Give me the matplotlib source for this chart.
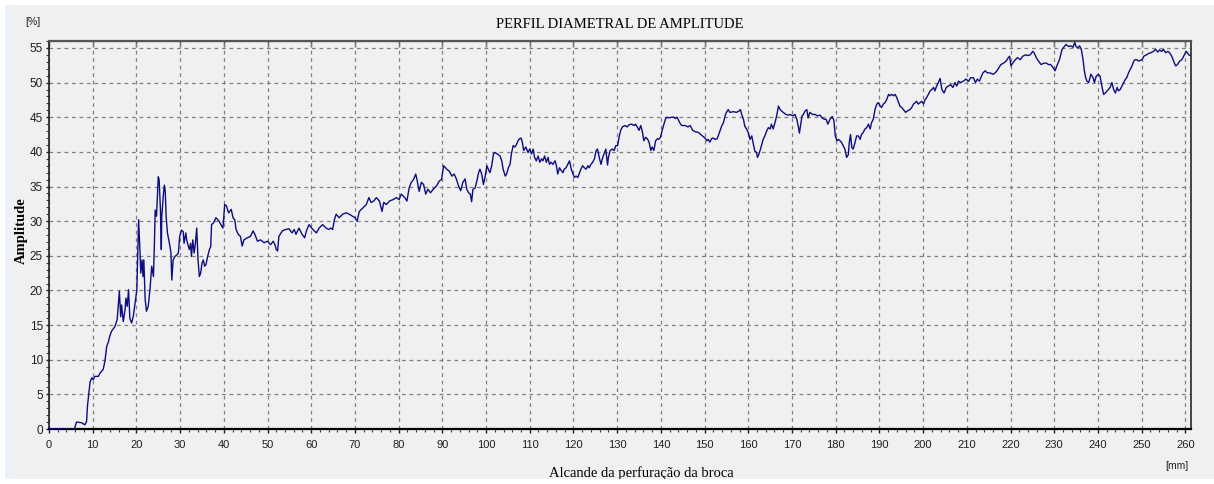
#!/usr/bin/env python
import matplotlib as mpl
import numpy as np

mpl.use("Agg")
from matplotlib import pyplot as plt
from matplotlib.patches import Rectangle
from matplotlib.ticker import MultipleLocator

# depth along the drilling (mm) and diametral amplitude (%)
depth_mm = [
    0, 5.8, 6.3, 7.5, 8.2, 8.6, 8.8, 9.1, 9.4, 9.8, 10.1, 10.5, 11.3, 11.7, 12.0, 12.4, 12.8,
    13.2, 13.6, 13.9, 14.3, 15.1, 15.6, 16.1, 16.4, 16.6, 17.0, 17.4, 17.6, 17.9, 18.2, 18.5,
    18.9, 19.3, 19.7, 20.1, 20.3, 20.5, 20.8, 21.0, 21.3, 21.5, 21.7, 22.0, 22.3, 22.7, 23.1,
    23.5, 23.9, 24.1, 24.3, 24.6, 25.0, 25.2, 25.5, 25.7, 25.8, 26.2, 26.4, 26.6, 26.8, 27.1,
    27.4, 27.7, 27.9, 28.1, 28.4, 28.8, 29.2, 29.6, 29.9, 30.3, 30.7, 30.9, 31.3, 31.5, 31.7,
    32.1, 32.4, 32.6, 32.9, 33.2, 33.5, 33.8, 34.1, 34.4, 34.7, 35.0, 35.3, 35.6, 35.9, 36.3,
    36.7, 37.0,
    # 37 - 92
    37.2, 37.7, 38.2, 38.9, 39.5, 39.8, 40.2, 40.6, 41.1, 41.7, 42.1, 42.5, 42.8, 43.3, 43.8,
    44.2, 44.6, 45.4, 46.1, 46.7, 47.1, 47.7, 48.4, 49.2, 50.0, 50.7, 51.3, 51.7, 52.0, 52.3,
    52.6, 53.4, 54.2, 54.9, 55.6, 56.1, 56.5, 57.2, 57.9, 58.5, 58.9, 59.5, 60.1, 60.7, 61.2,
    61.8, 62.6, 63.4, 64.0, 64.5, 64.9, 65.3, 65.7, 66.4, 67.2, 68.0, 68.7, 69.5, 70.0, 70.5,
    71.0, 71.8, 72.6, 73.2, 73.7, 74.3, 74.9, 75.6, 76.2, 76.6, 77.2, 77.9, 78.7, 79.5, 80.1,
    80.6, 81.4, 81.9, 82.4, 82.9, 83.4, 83.9, 84.2, 84.7, 85.2, 85.7, 86.2, 86.7, 87.3, 87.9,
    88.7, 89.3, 89.8, 90.3, 91.0, 91.6,
    # 92 - 149
    92.2, 92.7, 93.2, 93.7, 94.2, 94.7, 95.2, 95.6, 96.0, 96.4, 96.7, 97.0, 97.5, 97.9, 98.3,
    98.6, 99.0, 99.4, 99.8, 100.2, 100.5, 100.9, 101.3, 101.7, 102.0, 102.6, 103.2, 103.6,
    103.9, 104.4, 104.7, 105.1, 105.5, 105.8, 106.2, 106.6, 107.0, 107.3, 107.7, 108.0, 108.3,
    108.6, 109.1, 109.6, 110.0, 110.4, 110.8, 111.1, 111.5, 111.9, 112.3, 112.7, 113.0, 113.4,
    113.8, 114.2, 114.5, 114.9, 115.3, 115.8, 116.1, 116.4, 116.8, 117.2, 117.6, 117.9, 118.3,
    118.7, 119.1, 119.5, 119.8, 120.2, 120.6, 121.0, 121.4, 121.7, 122.1, 122.5, 122.9, 123.3,
    123.6, 124.0, 124.4, 124.8, 125.2, 125.5, 125.9, 126.3, 126.7, 127.0, 127.4, 127.8, 128.0,
    128.4, 128.9, 129.3, 129.7, 130.1, 130.5, 130.8, 131.2, 131.8, 132.3, 132.7, 133.3, 133.9,
    134.2, 134.6, 135.0, 135.4, 135.8, 136.1, 136.5, 136.9, 137.3, 137.7, 138.0, 138.4, 138.8,
    139.2, 139.5, 139.9, 140.3, 140.7, 141.1, 141.4, 141.8, 142.4, 143.0, 143.3, 143.7, 144.1,
    144.5, 144.8, 145.6, 146.2, 146.7, 147.3, 147.9, 148.6,
    # 149 - 204
    149.5, 150.1, 150.5, 150.8, 151.2, 151.6, 152.0, 152.4, 152.9, 153.4, 153.9, 154.3, 154.7,
    155.0, 155.4, 155.8, 156.6, 157.3, 157.9, 158.2, 158.5, 158.9, 159.2, 159.6, 160.0, 160.4,
    160.8, 161.1, 161.5, 161.9, 162.1, 162.4, 162.8, 163.1, 163.4, 163.8, 164.2, 164.6, 165.0,
    165.3, 165.7, 166.1, 166.5, 166.9, 167.3, 167.6, 168.0, 168.6, 169.2, 169.5, 170.2, 170.7,
    171.1, 171.5, 171.7, 172.0, 172.3, 172.6, 173.0, 173.4, 173.7, 174.1, 174.7, 175.3, 175.8,
    176.4, 176.9, 177.4, 177.8, 178.2, 178.7, 179.2, 179.6, 179.9, 180.3, 180.6, 181.0, 181.4,
    181.8, 182.1, 182.5, 182.9, 183.1, 183.4, 183.7, 184.0, 184.4, 184.8, 185.2, 185.6, 185.9,
    186.3, 186.7, 187.1, 187.5, 187.9, 188.2, 188.6, 189.0, 189.4, 189.8, 190.2, 190.5, 190.9,
    191.3, 191.7, 192.1, 192.4, 192.8, 193.2, 193.6, 194.0, 194.4, 194.7, 195.1, 195.5, 196.0,
    196.4, 197.0, 197.4, 197.8, 198.2, 198.5, 198.9, 199.3, 199.7, 200.1, 200.5, 200.8, 201.2,
    201.6, 202.0, 202.4, 202.7, 203.1, 203.5,
    # 204 - 261
    203.9, 204.3, 204.8, 205.3, 205.8, 206.3, 206.8, 207.3, 207.7, 208.1, 208.6, 209.2, 209.8,
    210.4, 210.9, 211.5, 212.0, 212.4, 212.9, 213.2, 213.7, 214.2, 214.7, 215.3, 216.0, 216.5,
    216.9, 217.3, 217.8, 218.4, 219.0, 219.5, 219.8, 220.1, 220.5, 221.1, 221.6, 222.2, 222.8,
    223.4, 223.9, 224.5, 225.1, 225.4, 225.9, 226.4, 227.0, 227.6, 228.2, 228.7, 229.2, 229.8,
    230.2, 230.6, 231.2, 231.8, 232.3, 232.7, 233.3, 233.8, 234.3, 234.7, 235.0, 235.4, 235.8,
    236.2, 236.6, 236.9, 237.2, 237.5, 237.9, 238.4, 238.9, 239.2, 239.6, 240.1, 240.5, 240.9,
    241.3, 241.7, 242.1, 242.4, 242.8, 243.2, 243.6, 244.0, 244.4, 244.7, 245.1, 245.5, 245.9,
    246.3, 246.6, 247.0, 247.4, 247.8, 248.2, 248.5, 248.9, 249.3, 249.7, 250.1, 250.5, 251.1,
    251.6, 252.1, 252.7, 253.2, 253.7, 254.1, 254.6, 255.0, 255.5, 256.0, 256.4, 256.9, 257.2,
    257.5, 257.8, 258.2, 258.7, 259.2, 259.8, 260.2, 260.5, 260.8, 261.1,
]

amplitude = [
    0, 0, 1.0, 0.9, 0.6, 1.1, 3.3, 5.0, 6.8, 7.4, 7.1, 7.6, 7.6, 8.1, 8.3, 8.6, 9.8,
    11.9, 12.6, 13.4, 14.1, 14.8, 15.8, 19.9, 16.2, 17.9, 15.5, 17.2, 18.9, 17.7, 20.1, 16.0,
    15.3, 16.3, 18.2, 20.1, 24.9, 30.2, 25.9, 22.5, 24.4, 22.0, 24.4, 18.7, 17.0, 17.7, 20.1,
    23.5, 22.0, 26.3, 31.6, 30.7, 36.4, 36.0, 31.6, 25.9, 30.7, 34.0, 35.2, 34.3, 30.7, 28.3,
    27.3, 26.3, 25.4, 21.5, 24.4, 24.9, 25.1, 25.4, 27.8, 28.7, 28.5, 26.8, 28.3, 27.3, 26.8,
    25.9, 26.8, 24.9, 27.3, 25.4, 26.8, 29.0, 24.4, 22.0, 22.5, 23.9, 24.4, 23.5, 23.7, 24.9,
    25.9, 26.3,
    29.5, 29.8, 30.5, 30.0, 29.3, 29.0, 32.4, 32.2, 31.2, 31.7, 30.5, 30.2, 28.8, 28.1, 27.8,
    26.4, 27.3, 27.6, 27.8, 28.6, 28.1, 27.1, 27.3, 26.9, 27.1, 26.6, 27.1, 26.6, 25.9, 25.7,
    27.8, 28.6, 28.8, 28.9, 28.3, 28.8, 28.1, 29.0, 28.1, 27.6, 28.6, 29.5, 29.0, 28.6, 28.3,
    29.0, 29.5, 29.0, 28.8, 29.0, 28.8, 30.2, 31.0, 30.5, 31.0, 31.2, 31.0, 30.7, 30.5, 30.0,
    31.4, 31.9, 32.4, 33.4, 32.7, 32.9, 33.4, 32.9, 31.4, 32.7, 32.4, 32.9, 33.1, 33.4, 33.1,
    33.9, 33.4, 32.9, 34.8, 35.6, 36.0, 36.8, 36.0, 34.3, 35.6, 35.3, 33.9, 34.6, 34.1, 34.6,
    35.1, 35.8, 36.0, 38.0, 37.5, 37.2,
    36.5, 36.8, 36.1, 35.1, 34.4, 35.6, 36.1, 34.6, 34.1, 33.9, 32.8, 34.6, 34.8, 35.8, 37.0,
    37.5, 36.8, 35.3, 36.5, 38.0, 37.5, 37.0, 38.0, 39.7, 39.9, 39.7, 39.4, 38.7,
    37.5, 36.5, 36.8, 37.7, 38.2, 39.7, 40.9, 40.7, 41.1, 41.6, 41.9, 42.0, 41.4,
    40.2, 40.7, 39.9, 40.4, 39.7, 40.4, 39.2, 38.7, 39.4, 38.5, 39.0, 38.7, 39.4,
    38.5, 39.2, 38.2, 38.5, 38.2, 38.7, 38.0, 36.8, 37.7, 37.3, 37.0, 37.5, 37.7,
    38.2, 38.7, 37.5, 37.0, 36.3, 36.5, 36.3, 37.0, 37.5, 38.0, 37.7, 37.5, 38.0,
    37.7, 38.2, 38.5, 39.0, 40.2, 40.4, 39.2, 38.2, 39.2, 39.7, 40.4, 38.1, 39.2,
    40.2, 40.4, 40.2, 40.9, 40.9, 42.3, 43.1, 43.6, 43.8, 43.6, 43.9, 44.0, 43.8,
    44.0, 43.6, 43.1, 43.8, 42.8, 41.6, 42.1, 41.9, 41.4, 40.2, 40.7, 40.2, 41.6,
    41.9, 41.8, 42.1, 43.1, 44.0, 44.8, 45.0, 44.9, 45.0, 45.0, 44.8, 45.0, 44.5,
    44.0, 43.8, 43.8, 43.6, 43.8, 43.1, 42.9, 42.8,
    42.3, 42.0, 41.6, 41.8, 41.4, 41.9, 42.0, 41.8, 41.9, 42.8, 43.7, 44.2, 45.2,
    45.7, 46.1, 45.7, 45.8, 45.7, 45.9, 46.1, 45.4, 44.7, 43.7, 43.3, 42.8, 41.8,
    42.3, 41.3, 40.1, 39.9, 39.2, 39.6, 40.4, 41.1, 41.8, 42.3, 43.0, 43.5, 43.3,
    44.0, 43.3, 44.2, 45.2, 46.6, 46.1, 45.9, 45.7, 45.4, 45.3, 45.4, 45.2, 45.4,
    44.7, 43.5, 42.7, 44.0, 45.2, 45.4, 45.9, 46.1, 44.9, 45.7, 45.4, 45.4, 45.2,
    45.3, 44.9, 44.7, 44.7, 44.0, 44.7, 45.1, 44.5, 42.3, 41.6, 41.8, 41.6, 41.3,
    40.8, 40.4, 39.2, 39.6, 41.3, 42.5, 40.6, 40.4, 41.3, 42.3, 42.3, 41.8, 42.5,
    42.8, 43.3, 43.5, 44.0, 43.3, 44.2, 44.7, 46.1, 46.9, 47.1, 46.6, 46.4, 46.9,
    47.1, 47.6, 48.3, 48.1, 48.3, 48.1, 48.3, 47.8, 47.1, 46.6, 46.4, 46.1, 45.7,
    45.9, 46.1, 46.4, 46.9, 47.1, 47.3, 46.9, 47.1, 47.3, 46.9, 47.6, 47.8, 48.3,
    48.8, 49.0, 49.3, 48.8, 49.5, 50.0,
    50.6, 49.0, 48.5, 49.3, 49.5, 49.7, 49.3, 50.0, 49.5, 50.2, 50.0, 50.2, 50.5,
    50.2, 50.7, 50.7, 50.0, 50.5, 50.2, 50.7, 51.4, 51.7, 51.4, 51.4, 51.2, 51.4,
    51.7, 52.1, 52.6, 52.8, 53.1, 53.6, 53.8, 52.4, 52.8, 53.3, 53.6, 53.3, 53.8,
    54.0, 53.9, 54.0, 54.5, 54.3, 53.6, 53.1, 52.6, 52.8, 52.8, 52.6, 52.6, 52.1,
    51.7, 52.4, 53.3, 54.8, 55.2, 55.5, 55.2, 55.3, 55.1, 55.8, 55.2, 55.0, 55.3,
    54.8, 53.3, 51.7, 50.7, 50.2, 50.0, 51.2, 50.7, 50.0, 50.9, 51.2, 50.9, 49.5,
    48.3, 48.5, 48.8, 49.0, 49.3, 50.0, 49.0, 48.5, 49.3, 48.8, 49.0, 49.5, 50.0,
    50.5, 50.7, 51.4, 51.9, 52.4, 53.1, 53.3, 53.3, 53.1, 53.2, 53.3, 53.8, 54.0,
    54.2, 54.3, 54.5, 54.8, 54.4, 54.7, 54.5, 54.8, 54.3, 54.5, 54.3, 53.8, 53.3,
    52.8, 52.4, 52.6, 53.1, 53.3, 54.0, 54.5, 54.3, 54.0, 53.9,
]

x_ticks = np.arange(0, 261, 10)
y_ticks = np.arange(0, 56, 5)

W, H = 1214, 484
fig = plt.figure(figsize=(W / 100, H / 100), dpi=100, facecolor="white")

# window frame: grey panel with a faint blue strip on the left
fig.add_artist(Rectangle((5 / W, 1 - 479 / H), 1 - 5 / W, 474 / H, transform=fig.transFigure,
                         facecolor="#f0f0f0", edgecolor="none", zorder=0))
fig.add_artist(Rectangle((5 / W, 1 - 479 / H), 8 / W, 474 / H, transform=fig.transFigure,
                         facecolor="#edf1f8", edgecolor="none", zorder=0))

ax = fig.add_axes([49 / W, 1 - 429 / H, (1191 - 49) / W, (429 - 41) / H])
ax.set_facecolor("#f0f0f0")

ax.plot(depth_mm, amplitude, color="#0d0d80", lw=1.0, zorder=3)

ax.set_xlim(0, 261.3)
ax.set_ylim(0, 56.0)
ax.set_xticks(x_ticks)
ax.set_yticks(y_ticks)
ax.xaxis.set_minor_locator(MultipleLocator(2))
ax.yaxis.set_minor_locator(MultipleLocator(1))
ax.grid(True, which="major", color="#808080", ls=(0, (3, 3)), lw=0.9)

ax.tick_params(axis="x", which="major", length=3, width=1, color="#202020",
               direction="out", labelsize=8, pad=5)
ax.tick_params(axis="y", which="major", length=2.5, width=1, color="#202020",
               direction="out", labelsize=8.5, pad=1.8)
ax.tick_params(which="minor", length=2, width=0.8, color="#404040", direction="out")
for lab in ax.get_xticklabels() + ax.get_yticklabels():
    lab.set_fontfamily("Liberation Sans")
    lab.set_color("#202020")

for side, col, w in [("bottom", "black", 1.6), ("left", "#202020", 1.2),
                     ("top", "#555555", 1.6), ("right", "#444444", 1.4)]:
    ax.spines[side].set_color(col)
    ax.spines[side].set_linewidth(w)

# short inward ticks along the top edge
top = ax.secondary_xaxis("top")
top.set_xticks(x_ticks)
top.tick_params(direction="in", length=4, width=1, color="#555555", labeltop=False)

ax.set_title("PERFIL DIAMETRAL DE AMPLITUDE", family="Liberation Serif", fontsize=10.5,
             pad=9)
fig.text(641 / W, 1 - 473 / H, "Alcande da perfuração da broca", family="Liberation Serif",
         fontsize=10.5, ha="center", va="center", zorder=3)
fig.text(21 / W, 1 - 231 / H, "Amplitude", family="Liberation Serif", fontweight="bold",
         fontsize=10.5, rotation=90, ha="center", va="center")
fig.text(33 / W, 1 - 22 / H, "[%]", family="Liberation Sans", fontsize=7.5,
         ha="center", va="center", color="#202020")
fig.text(1177 / W, 1 - 466 / H, "[mm]", family="Liberation Sans", fontsize=7.5,
         ha="center", va="center", color="#202020")

# white band at the bottom cuts the x label like in the screenshot
fig.add_artist(Rectangle((0, 0), 1, 1 - 479 / H, transform=fig.transFigure,
                         facecolor="white", edgecolor="none", zorder=10))

fig.savefig("out.png", dpi=100, facecolor="white")
